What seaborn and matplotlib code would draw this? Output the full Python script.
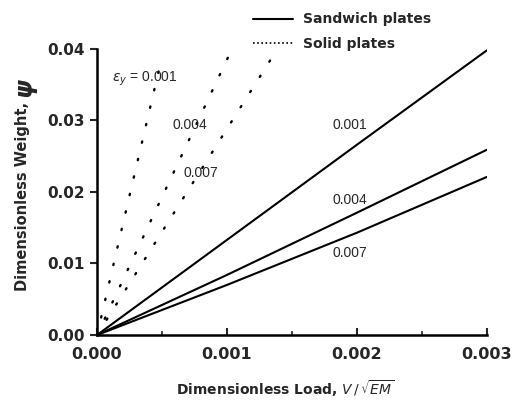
import numpy as np
import pandas as pd
import matplotlib
matplotlib.use("Agg")
import matplotlib.pyplot as plt
import seaborn as sns
from matplotlib.lines import Line2D
from matplotlib.ticker import MultipleLocator, FormatStrFormatter

# Sandwich plates (solid lines)
load_sandwich = [0.0, 0.001, 0.002, 0.003]
weight_sandwich_001 = [0.0, 0.0133, 0.0266, 0.0398]
weight_sandwich_004 = [0.0, 0.0084, 0.0171, 0.0259]
weight_sandwich_007 = [0.0, 0.0070, 0.0143, 0.0221]

# Solid plates (dotted lines)
load_solid_001 = [0.0, 0.00025, 0.0005]
weight_solid_001 = [0.0, 0.0195, 0.0389]
load_solid_004 = [0.0, 0.0005, 0.00101]
weight_solid_004 = [0.0, 0.0193, 0.0389]
load_solid_007 = [0.0, 0.0007, 0.00135]
weight_solid_007 = [0.0, 0.0202, 0.0389]

sns.set_style("ticks")
plt.rcParams["font.family"] = ["DejaVu Sans"]

fig = plt.figure(figsize=(5.19, 4.01), dpi=100)
ax = fig.add_axes([0.187, 0.1646, 0.751, 0.7134])

dots = (0, (0.6, 7))
for w in [weight_sandwich_001, weight_sandwich_004, weight_sandwich_007]:
    df = pd.DataFrame({"V": load_sandwich, "psi": w})
    sns.lineplot(data=df, x="V", y="psi", color="black", lw=1.5, ax=ax)

for v, w in [(load_solid_001, weight_solid_001),
             (load_solid_004, weight_solid_004),
             (load_solid_007, weight_solid_007)]:
    df = pd.DataFrame({"V": v, "psi": w})
    sns.lineplot(data=df, x="V", y="psi", color="black", lw=1.7,
                 linestyle=dots, dash_capstyle="round", ax=ax)

ax.set_xlim(0, 0.003)
ax.set_ylim(0, 0.04)
sns.despine(ax=ax)
for s in ["left", "bottom"]:
    ax.spines[s].set_linewidth(1.8)
    ax.spines[s].set_color("black")

ax.xaxis.set_major_locator(MultipleLocator(0.001))
ax.xaxis.set_minor_locator(MultipleLocator(0.0005))
ax.yaxis.set_major_locator(MultipleLocator(0.01))
ax.xaxis.set_major_formatter(FormatStrFormatter("%.3f"))
ax.yaxis.set_major_formatter(FormatStrFormatter("%.2f"))
ax.tick_params(axis="x", which="major", direction="in", length=5, width=1.5,
               labelsize=11.5, pad=9)
ax.tick_params(axis="x", which="minor", direction="in", length=3, width=1.2)
ax.tick_params(axis="y", which="major", direction="out", length=5, width=1.5,
               labelsize=11, pad=4)
for lab in ax.get_xticklabels() + ax.get_yticklabels():
    lab.set_fontweight("bold")

ax.set_xlabel(r"Dimensionless Load, $V\,/\,\sqrt{EM}$", fontsize=10,
              fontweight="bold")
ax.set_ylabel("Dimensionless Weight,", fontsize=10.5, fontweight="bold")
ax.xaxis.set_label_coords(0.482, -0.15)
ax.yaxis.set_label_coords(-0.172, 0.486)
ax.text(-0.187, 0.865, "\u03c8", transform=ax.transAxes, rotation=90,
        fontsize=17, fontweight="bold", fontstyle="italic",
        ha="center", va="center")

lab_font = dict(family=["Liberation Sans", "DejaVu Sans"], fontsize=10,
                va="center", ha="left")
ax.text(0.000115, 0.0358, r"$\varepsilon_y$ = 0.001", **lab_font)
ax.text(0.000577, 0.0294, "0.004", **lab_font)
ax.text(0.000662, 0.0227, "0.007", **lab_font)
ax.text(0.001815, 0.0294, "0.001", **lab_font)
ax.text(0.001815, 0.0189, "0.004", **lab_font)
ax.text(0.001815, 0.0115, "0.007", **lab_font)

handles = [Line2D([], [], color="black", lw=1.5),
           Line2D([], [], color="black", lw=1.2, linestyle=(0, (1, 1.5)))]
fig.legend(handles, ["Sandwich plates", "Solid plates"], loc="upper left",
           bbox_to_anchor=(0.4635, 1.0), frameon=False, handlelength=2.9,
           handletextpad=0.7, labelspacing=0.75,
           prop=dict(weight="bold", size=10))

fig.savefig("out.png", dpi=100)
